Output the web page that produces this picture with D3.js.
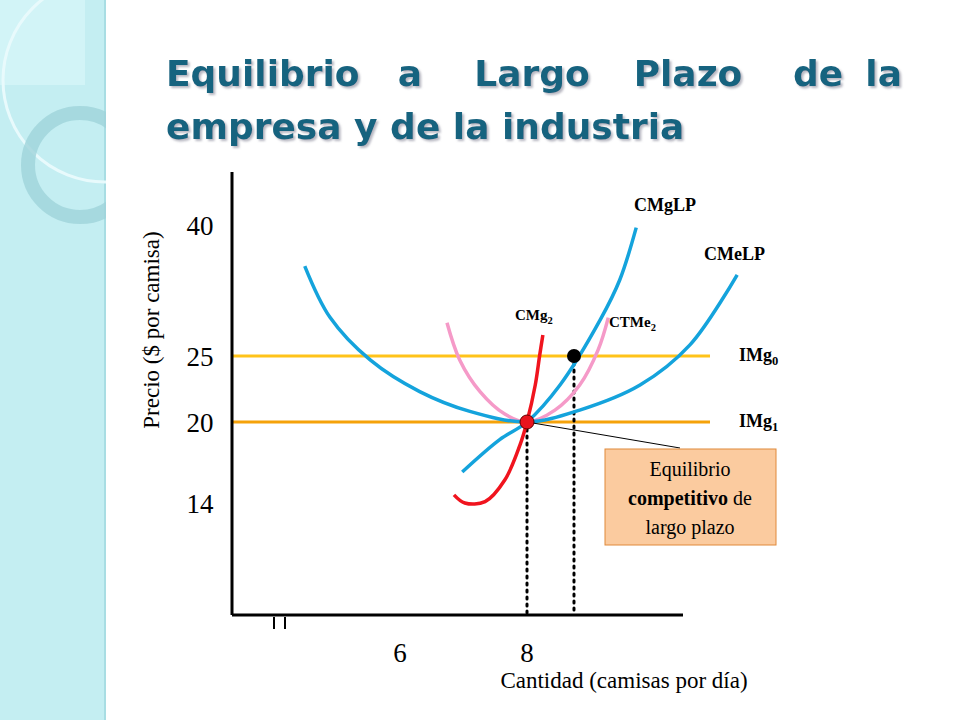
<!DOCTYPE html>
<html lang="en">
<head>
<meta charset="UTF-8">
<title>Equilibrio a Largo Plazo</title>
<script src="https://d3js.org/d3.v7.min.js"></script>
<style>
  html, body { margin: 0; background: #fff; }
  svg text { font-family: "Liberation Serif", serif; }
</style>
</head>
<body>
<svg id="vis" width="960" height="720"></svg>
<script>
// price ticks and quantity ticks
var priceTicks = [40, 25, 20, 14];
var qtyTicks = [6, 8];

// curves as [quantity, price]
var cmelp = [[4.5,35.3],[4.9,29.4],[5.53,24.7],[6.31,22.3],[7.1,20.8],[8,20],[8.83,20.9],[9.78,22.8],[10.57,26.3],[11.31,34.3]];
var cmglp = [[6.98,16.3],[7.57,18.7],[8,20],[8.52,22.8],[9.15,29.1],[9.46,33.7],[9.72,39.7]];
var ctme2 = [[6.74,28.8],[6.94,24.7],[7.26,22.3],[7.65,20.6],[8,20],[8.44,20.9],[8.83,22.8],[9.12,25.7],[9.28,29.4]];
var cmg2 = [[6.85,14.6],[7.02,14],[7.34,14.1],[7.65,15.7],[7.89,18.3],[8,20],[8.13,22.8],[8.2,25.1],[8.25,27.4]];
var img0 = 25, img1 = 20;
var eqPoint = [8, 20], oldPoint = [8.74, 25];

var svg = d3.select("#vis");

var defs = svg.append("defs");
var sh = defs.append("filter").attr("id", "shadow").attr("x", "-5%").attr("y", "-20%").attr("width", "115%").attr("height", "150%");
sh.append("feDropShadow").attr("dx", 2).attr("dy", 2).attr("stdDeviation", 1).attr("flood-color", "#889").attr("flood-opacity", 0.6);

// left decorative band
var side = svg.append("g");
side.append("rect").attr("x", 0).attr("y", 0).attr("width", 105).attr("height", 720).attr("fill", "#c4eef2");
side.append("rect").attr("x", 0).attr("y", 0).attr("width", 85).attr("height", 85).attr("fill", "#d6f5f8").attr("opacity", 0.8);
side.append("line").attr("x1", 105).attr("x2", 105).attr("y1", 0).attr("y2", 720).attr("stroke", "#a8dde3").attr("stroke-width", 2);
var clip = defs.append("clipPath").attr("id", "sideclip");
clip.append("rect").attr("width", 106).attr("height", 720);
side.append("circle").attr("cx", 105).attr("cy", 80).attr("r", 102).attr("fill", "none")
  .attr("stroke", "#e8fafc").attr("stroke-width", 3).attr("clip-path", "url(#sideclip)");
side.append("circle").attr("cx", 80).attr("cy", 165).attr("r", 52).attr("fill", "none")
  .attr("stroke", "#9fd3da").attr("stroke-width", 14).attr("opacity", 0.8).attr("clip-path", "url(#sideclip)");

// title, justified by hand
var titleColor = "#17637f";
function titleWord(txt, x, y, anchor) {
  svg.append("text").attr("x", x).attr("y", y).attr("text-anchor", anchor)
    .attr("fill", titleColor).attr("filter", "url(#shadow)")
    .style("font-family", "'DejaVu Sans', sans-serif").style("font-weight", "bold").style("font-size", "36px").text(txt);
}
titleWord("Equilibrio", 166, 86, "start");
titleWord("a", 410, 86, "middle");
titleWord("Largo", 532, 86, "middle");
titleWord("Plazo", 688, 86, "middle");
titleWord("de", 818, 86, "middle");
titleWord("la", 902, 86, "end");
titleWord("empresa y de la industria", 166, 139, "start");

// scales
var x = d3.scaleLinear().domain([6, 8]).range([400, 527]);
var y = d3.scaleLinear().domain([8, 14, 20, 25, 40]).range([584, 503, 422, 356, 225]);

var x0 = 232, yAxis = 615;

// reference lines
svg.append("line").attr("x1", x0).attr("x2", 710).attr("y1", y(img0)).attr("y2", y(img0))
  .attr("stroke", "#ffc31a").attr("stroke-width", 3);
svg.append("line").attr("x1", x0).attr("x2", 710).attr("y1", y(img1)).attr("y2", y(img1))
  .attr("stroke", "#f5a20a").attr("stroke-width", 3);

// dotted drops
[eqPoint, oldPoint].forEach(function (p) {
  svg.append("line").attr("x1", x(p[0])).attr("x2", x(p[0])).attr("y1", y(p[1])).attr("y2", yAxis)
    .attr("stroke", "#000").attr("stroke-width", 3).attr("stroke-dasharray", "2,5").attr("stroke-linecap", "round");
});

var line = d3.line().x(function (d) { return x(d[0]); }).y(function (d) { return y(d[1]); }).curve(d3.curveCatmullRom);
svg.append("path").datum(ctme2).attr("d", line).attr("fill", "none").attr("stroke", "#f59ac8").attr("stroke-width", 3.5);
svg.append("path").datum(cmelp).attr("d", line).attr("fill", "none").attr("stroke", "#14a3dc").attr("stroke-width", 3.5);
svg.append("path").datum(cmglp).attr("d", line).attr("fill", "none").attr("stroke", "#14a3dc").attr("stroke-width", 3.5);
svg.append("path").datum(cmg2).attr("d", line).attr("fill", "none").attr("stroke", "#f0141e").attr("stroke-width", 3.5);

// axes
svg.append("line").attr("x1", x0).attr("x2", x0).attr("y1", 172).attr("y2", yAxis).attr("stroke", "#000").attr("stroke-width", 3);
svg.append("line").attr("x1", x0).attr("x2", 683).attr("y1", yAxis).attr("y2", yAxis).attr("stroke", "#000").attr("stroke-width", 3);
[274, 285].forEach(function (bx) {
  svg.append("line").attr("x1", bx).attr("x2", bx).attr("y1", 617).attr("y2", 629).attr("stroke", "#000").attr("stroke-width", 2);
});

// leader line and callout
svg.append("line").attr("x1", x(eqPoint[0])).attr("y1", y(eqPoint[1])).attr("x2", 680).attr("y2", 448)
  .attr("stroke", "#000").attr("stroke-width", 1);
svg.append("rect").attr("x", 605).attr("y", 449).attr("width", 171).attr("height", 96)
  .attr("fill", "#fbcb9f").attr("stroke", "#e0893a").attr("stroke-width", 1);
var box = svg.append("text").attr("text-anchor", "middle").style("font-size", "20px");
box.append("tspan").attr("x", 690).attr("y", 476).text("Equilibrio");
var l2 = box.append("tspan").attr("x", 690).attr("y", 505);
l2.append("tspan").style("font-weight", "bold").text("competitivo");
l2.append("tspan").text(" de");
box.append("tspan").attr("x", 690).attr("y", 534).text("largo plazo");

// points
svg.append("circle").attr("cx", x(oldPoint[0])).attr("cy", y(oldPoint[1])).attr("r", 7).attr("fill", "#000");
svg.append("circle").attr("cx", x(eqPoint[0])).attr("cy", y(eqPoint[1])).attr("r", 7).attr("fill", "#e8141e").attr("stroke", "#600").attr("stroke-width", 1);

// tick labels
priceTicks.forEach(function (t) {
  svg.append("text").attr("x", 200).attr("y", y(t) + 10).attr("text-anchor", "middle").style("font-size", "27px").text(t);
});
qtyTicks.forEach(function (t) {
  svg.append("text").attr("x", x(t)).attr("y", 662).attr("text-anchor", "middle").style("font-size", "27px").text(t);
});

// axis titles
svg.append("text").attr("transform", "translate(159,330) rotate(-90)").attr("text-anchor", "middle")
  .style("font-size", "23px").text("Precio ($ por camisa)");
svg.append("text").attr("x", 624).attr("y", 688).attr("text-anchor", "middle").style("font-size", "23px")
  .text("Cantidad (camisas por día)");

// curve labels
function label(txt, sub, lx, ly, size) {
  var t = svg.append("text").attr("x", lx).attr("y", ly).style("font-weight", "bold").style("font-size", size + "px");
  t.append("tspan").text(txt);
  if (sub) t.append("tspan").attr("dy", 4).style("font-size", (size * 0.7) + "px").text(sub);
}
label("CMgLP", null, 634, 211, 18);
label("CMeLP", null, 704, 260, 18);
label("CMg", "2", 515, 320, 15);
label("CTMe", "2", 609, 327, 15);
label("IMg", "0", 739, 361, 18);
label("IMg", "1", 739, 427, 18);
</script>
</body>
</html>
